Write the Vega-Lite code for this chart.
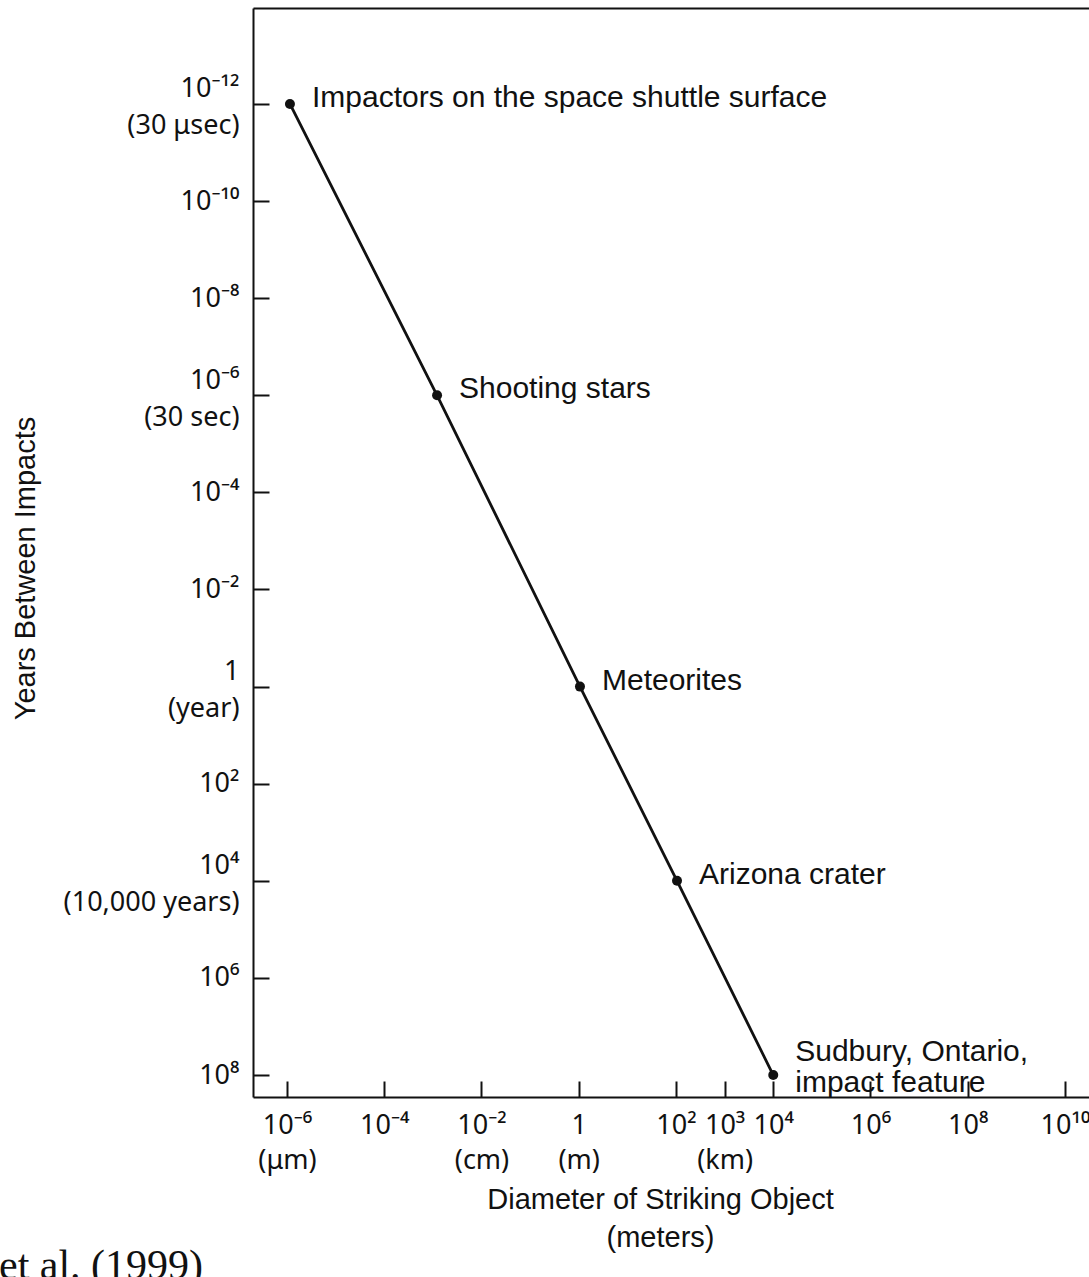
{
  "$schema": "https://vega.github.io/schema/vega-lite/v6.json",
  "width": 836,
  "height": 1089,
  "autosize": "none",
  "padding": {"left": 253, "top": 8, "right": 0, "bottom": 180},
  "background": "white",
  "config": {"view": {"stroke": null}, "font": "Liberation Sans"},
  "title": {"text": "et al. (1999)", "orient": "bottom", "anchor": "start", "frame": "group", "dx": -254, "offset": 27, "font": "Liberation Serif", "fontSize": 42, "fontWeight": "normal", "color": "#111", "baseline": "alphabetic"},
  "data": {"values": [
    {"diameter_m": 1.15e-6, "years": 1e-12, "label": "Impactors on the space shuttle surface"},
    {"diameter_m": 1.22e-3, "years": 1e-6, "label": "Shooting stars"},
    {"diameter_m": 1.06, "years": 1, "label": "Meteorites"},
    {"diameter_m": 105, "years": 1e4, "label": "Arizona crater"},
    {"diameter_m": 1e4, "years": 1e8, "label": "Sudbury, Ontario,\nimpact feature"}
  ]},
  "encoding": {
    "y": {
      "field": "years", "type": "quantitative",
      "scale": {"type": "log", "domain": [1.054e-14, 2.838e8], "reverse": true, "nice": false, "zero": false},
      "axis": {
        "values": [1e-12, 1e-10, 1e-8, 1e-6, 1e-4, 1e-2, 1, 1e2, 1e4, 1e6, 1e8],
        "grid": false, "tickSize": -16, "tickWidth": 2, "tickColor": "#111",
        "domainColor": "#111", "domainWidth": 2,
        "labelPadding": 30, "labelFont": "Noto Sans", "labelFontSize": 27, "labelColor": "#111", "labelLineHeight": 37,
        "labelBaseline": "middle", "labelAlign": "right", "labelOverlap": false, "labelBound": false, "labelFlush": false, "labelLimit": 400,
        "labelOffset": {"condition": {"test": "indexof([-12, -6, 0, 4], round(log(datum.value)/LN10)) >= 0", "value": -15}, "value": 0},
        "labelExpr": "round(log(datum.value)/LN10) == -12 ? ['10⁻¹²', '(30 μsec)'] : round(log(datum.value)/LN10) == -10 ? '10⁻¹⁰' : round(log(datum.value)/LN10) == -8 ? '10⁻⁸' : round(log(datum.value)/LN10) == -6 ? ['10⁻⁶', '(30 sec)'] : round(log(datum.value)/LN10) == -4 ? '10⁻⁴' : round(log(datum.value)/LN10) == -2 ? '10⁻²' : round(log(datum.value)/LN10) == 0 ? ['1', '(year)'] : round(log(datum.value)/LN10) == 2 ? '10²' : round(log(datum.value)/LN10) == 4 ? ['10⁴', '(10,000 years)'] : round(log(datum.value)/LN10) == 6 ? '10⁶' : '10⁸'",
        "title": "Years Between Impacts", "titleFontSize": 29, "titleFontWeight": "normal", "titleColor": "#111",
        "titleAngle": -90, "titleX": -228, "titleY": 560, "titleAlign": "center", "titleBaseline": "middle"
      }
    }
  },
  "layer": [
    {
      "mark": {"type": "line", "color": "#111", "strokeWidth": 2.8},
      "encoding": {
        "x": {
          "field": "diameter_m", "type": "quantitative",
          "scale": {"type": "log", "domain": [2.0e-7, 3.119e10], "nice": false, "zero": false},
          "axis": {
            "orient": "bottom",
            "values": [1e-6, 1e-4, 1e-2, 1, 1e2, 1e3, 1e4, 1e6, 1e8, 1e10],
            "grid": false, "tickSize": -16, "tickWidth": 2, "tickColor": "#111",
            "domainColor": "#111", "domainWidth": 2,
            "labelPadding": 31, "labelFont": "Noto Sans", "labelFontSize": 27, "labelColor": "#111", "labelLineHeight": 35,
            "labelBaseline": "top", "labelAlign": "center", "labelOverlap": false, "labelBound": false, "labelFlush": false, "labelLimit": 400,
            "labelExpr": "round(log(datum.value)/LN10) == -6 ? ['10⁻⁶', '(μm)'] : round(log(datum.value)/LN10) == -4 ? '10⁻⁴' : round(log(datum.value)/LN10) == -2 ? ['10⁻²', '(cm)'] : round(log(datum.value)/LN10) == 0 ? ['1', '(m)'] : round(log(datum.value)/LN10) == 2 ? '10²' : round(log(datum.value)/LN10) == 3 ? ['10³', '(km)'] : round(log(datum.value)/LN10) == 4 ? '10⁴' : round(log(datum.value)/LN10) == 6 ? '10⁶' : round(log(datum.value)/LN10) == 8 ? '10⁸' : '10¹⁰'",
            "title": ["Diameter of Striking Object", "(meters)"], "titleFontSize": 29, "titleFontWeight": "normal", "titleColor": "#111",
            "titleLineHeight": 38, "titleX": 407, "titleY": 88, "titleAlign": "center", "titleBaseline": "top"
          }
        }
      }
    },
    {
      "mark": {"type": "circle", "color": "#111", "size": 100, "opacity": 1},
      "encoding": {
        "x": {"field": "diameter_m", "type": "quantitative", "scale": {"type": "log", "domain": [2.0e-7, 3.119e10], "nice": false, "zero": false}, "axis": null}
      }
    },
    {
      "transform": [{"filter": "datum.years < 1e7"}],
      "mark": {"type": "text", "align": "left", "baseline": "middle", "dx": 22, "dy": -6, "fontSize": 30, "color": "#111"},
      "encoding": {
        "x": {
          "field": "diameter_m", "type": "quantitative",
          "scale": {"type": "log", "domain": [2.0e-7, 3.119e10], "nice": false, "zero": false},
          "axis": {"orient": "top", "labels": false, "ticks": false, "domain": true, "domainColor": "#111", "domainWidth": 2, "title": null, "grid": false}
        },
        "text": {"field": "label", "type": "nominal"}
      }
    },
    {
      "transform": [{"filter": "datum.years >= 1e7"}],
      "mark": {"type": "text", "align": "left", "baseline": "middle", "dx": 22, "dy": -23, "fontSize": 30, "lineBreak": "\n", "lineHeight": 31, "color": "#111"},
      "encoding": {
        "x": {"field": "diameter_m", "type": "quantitative", "scale": {"type": "log", "domain": [2.0e-7, 3.119e10], "nice": false, "zero": false}, "axis": null},
        "text": {"field": "label", "type": "nominal"}
      }
    }
  ],
  "resolve": {"axis": {"x": "independent"}}
}
